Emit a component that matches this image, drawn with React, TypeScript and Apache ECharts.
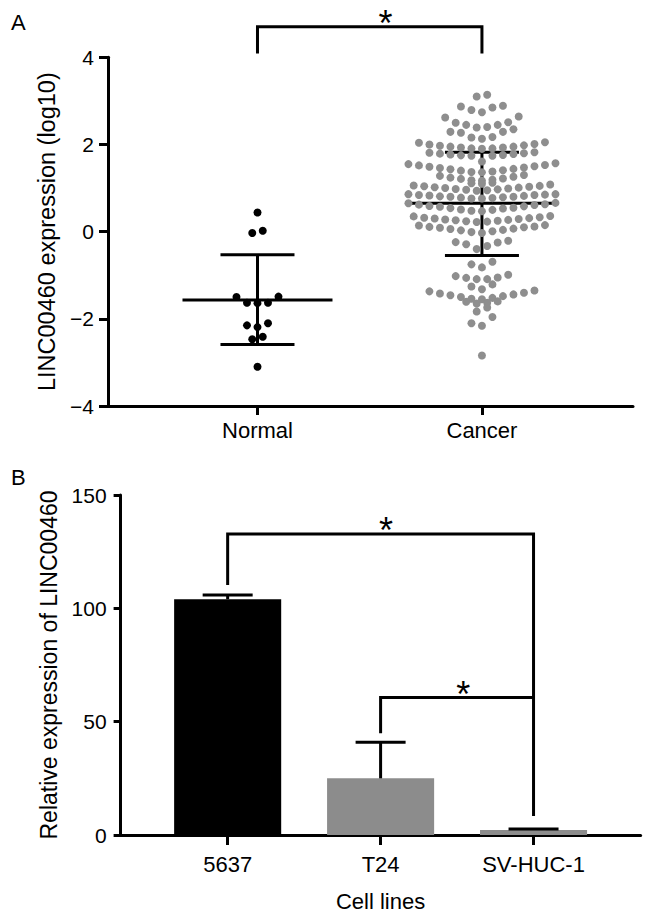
import React, { useEffect, useRef } from 'react';
import * as echarts from 'echarts';

const FONT = '"Liberation Sans", Arial, Helvetica, sans-serif';

// ---------- Panel A data ----------
const groupsA = ['Normal', 'Cancer'];
// values per horizontal bin (log10 expression)
const normalRows: number[][] = [
  [0.44],
  [-0.03, 0.02],
  [-1.49, -1.63, -1.63, -1.64, -1.5],
  [-2.1, -2.19, -2.15],
  [-2.41, -2.47],
  [-3.1],
];
const cancerRows: number[][] = [
  [3.1, 3.14],
  [2.74, 2.79, 2.85, 2.87, 2.89],
  [2.39, 2.4, 2.45, 2.45, 2.5, 2.51, 2.62, 2.64],
  [2.13, 2.16, 2.17, 2.27, 2.29, 2.29, 2.35],
  [1.9, 1.91, 1.91, 1.93, 1.93, 1.95, 1.95, 1.97, 1.98, 2.0, 2.01, 2.04, 2.05],
  [1.61, 1.74, 1.74, 1.75, 1.76, 1.77, 1.78, 1.79, 1.8, 1.81, 1.82],
  [1.36, 1.37, 1.38, 1.4, 1.41, 1.43, 1.44, 1.46, 1.47, 1.49, 1.5, 1.52, 1.53, 1.55, 1.57],
  [1.17, 1.18, 1.19, 1.21, 1.22, 1.24, 1.26, 1.28, 1.3],
  [1.1, 1.11, 1.12],
  [0.94, 0.95, 0.96, 0.97, 0.98, 0.99, 1.0, 1.01, 1.02, 1.03, 1.04, 1.05, 1.06, 1.08],
  [0.76, 0.76, 0.77, 0.78, 0.79, 0.8, 0.8, 0.81, 0.82, 0.83, 0.84, 0.84, 0.85, 0.86, 0.86],
  [0.47, 0.48, 0.5, 0.51, 0.53, 0.54, 0.55, 0.57, 0.58, 0.59, 0.61, 0.62, 0.63, 0.65, 0.66],
  [0.22, 0.23, 0.24, 0.25, 0.26, 0.27, 0.28, 0.29, 0.3, 0.31, 0.32, 0.33, 0.35, 0.36],
  [-0.03, -0.01, 0.01, 0.03, 0.04, 0.06, 0.07, 0.09, 0.1, 0.11, 0.12, 0.14, 0.15],
  [-0.4, -0.33, -0.29, -0.25, -0.24, -0.21],
  [-0.82, -0.75, -0.69],
  [-1.09, -1.09, -1.06, -1.05, -1.02, -0.99],
  [-1.32, -1.26, -1.21],
  [-1.55, -1.54, -1.52, -1.5, -1.48, -1.46, -1.44, -1.42, -1.4, -1.37, -1.35],
  [-1.65, -1.63, -1.61, -1.6],
  [-1.83, -1.74],
  [-2.16, -2.1, -1.96],
  [-2.84],
];
const meanA = [-1.57, 0.65];
const sdLowA = [-2.59, -0.55];
const sdHighA = [-0.53, 1.82];
// significance bracket A: [from, to, top, leftEnd, rightEnd, starX]
const bracketsA = [[1, 2, 4.7, 4.09, 4.09, 1.57]];

// ---------- Panel B data ----------
const cellLines = ['5637', 'T24', 'SV-HUC-1'];
const expressionB = [104.0, 25.0, 2.2];
const errorTopB = [105.9, 40.9, 2.7];
const barColorsB = ['#000000', '#8c8c8c', '#8c8c8c'];
const bracketsB = [
  [1, 3, 132.8, 110.3, 8.4, 2.035],
  [2, 3, 60.7, 44.9, 60.7, 2.54],
];

// Prism-like layout: within each bin sort ascending, place centre-out alternately
function swarm(rows: number[][], cx: number, step: number) {
  const pts: number[][] = [];
  rows.forEach((row) => {
    const s = [...row].sort((a, b) => a - b);
    const n = s.length;
    s.forEach((v, i) => {
      let off: number;
      if (n % 2 === 1) {
        const k = Math.ceil(i / 2);
        off = i === 0 ? 0 : i % 2 === 1 ? -k : k;
      } else {
        const k = Math.floor(i / 2) + 0.5;
        off = i % 2 === 0 ? -k : k;
      }
      pts.push([cx + off * step, v]);
    });
  });
  return pts;
}

const STEP = 0.0468;
const txt = { color: '#000', fontFamily: FONT };

function errorBarA(params: any, api: any) {
  const x = api.value(0);
  const pm = api.coord([x, api.value(1)]);
  const plo = api.coord([x, api.value(2)]);
  const phi = api.coord([x, api.value(3)]);
  const st = { stroke: '#000', lineWidth: 3 };
  return {
    type: 'group',
    children: [
      { type: 'line', shape: { x1: plo[0], y1: plo[1], x2: phi[0], y2: phi[1] }, style: st },
      { type: 'line', shape: { x1: phi[0] - 37, y1: phi[1], x2: phi[0] + 37, y2: phi[1] }, style: st },
      { type: 'line', shape: { x1: plo[0] - 37, y1: plo[1], x2: plo[0] + 37, y2: plo[1] }, style: st },
      { type: 'line', shape: { x1: pm[0] - 75, y1: pm[1], x2: pm[0] + 75, y2: pm[1] }, style: st },
    ],
  };
}

function bracket(params: any, api: any) {
  const a = api.value(0), b = api.value(1), top = api.value(2);
  const p1 = api.coord([a, api.value(3)]);
  const p2 = api.coord([a, top]);
  const p3 = api.coord([b, top]);
  const p4 = api.coord([b, api.value(4)]);
  const ps = api.coord([api.value(5), top]);
  return {
    type: 'group',
    children: [
      {
        type: 'polyline',
        shape: { points: [p1, p2, p3, p4] },
        style: { stroke: '#000', lineWidth: 3, fill: 'none' },
      },
      {
        type: 'text',
        x: ps[0],
        y: ps[1] - 3,
        style: {
          text: '*',
          fill: '#000',
          font: `36px ${FONT}`,
          align: 'center',
          verticalAlign: 'middle',
          textAlign: 'center',
          textVerticalAlign: 'middle',
        },
      },
    ],
  };
}

function barB(params: any, api: any) {
  const x = api.value(0);
  const pTop = api.coord([x - 0.35, api.value(1)]);
  const pBot = api.coord([x + 0.35, 0]);
  return {
    type: 'rect',
    shape: { x: pTop[0], y: pTop[1], width: pBot[0] - pTop[0], height: pBot[1] - pTop[1] },
    style: { fill: barColorsB[params.dataIndex] },
  };
}

function errB(params: any, api: any) {
  const x = api.value(0);
  const pm = api.coord([x, api.value(1)]);
  const ph = api.coord([x, api.value(2)]);
  const st = { stroke: '#000', lineWidth: 3 };
  return {
    type: 'group',
    children: [
      { type: 'line', shape: { x1: pm[0], y1: pm[1], x2: ph[0], y2: ph[1] }, style: st },
      { type: 'line', shape: { x1: ph[0] - 25, y1: ph[1], x2: ph[0] + 25, y2: ph[1] }, style: st },
    ],
  };
}

function buildOption() {
  const normalPts = swarm(normalRows, 1, STEP);
  const cancerPts = swarm(cancerRows, 2, STEP);
  const axisLine = { show: true, onZero: false, lineStyle: { color: '#000', width: 3 } };
  return {
    animation: false,
    backgroundColor: '#fff',
    graphic: [
      { type: 'text', left: 11, top: 11, style: { text: 'A', font: `22px ${FONT}`, fill: '#000' } },
      { type: 'text', left: 11, top: 466, style: { text: 'B', font: `22px ${FONT}`, fill: '#000' } },
    ],
    grid: [
      { left: 108, right: 13, top: 57.3, bottom: 513 },
      { left: 120.6, right: 5.4, top: 495, bottom: 84 },
    ],
    xAxis: [
      {
        type: 'value',
        gridIndex: 0,
        min: 0.334,
        max: 2.673,
        axisLine,
        axisTick: { show: true, customValues: [1, 2], length: 9, lineStyle: { color: '#000', width: 3 } },
        axisLabel: {
          customValues: [1, 2],
          formatter: (v: number) => groupsA[Math.round(v) - 1] ?? '',
          fontSize: 22,
          margin: 13,
          ...txt,
        },
        splitLine: { show: false },
      },
      {
        type: 'value',
        gridIndex: 1,
        min: 0.3,
        max: 3.7,
        axisLine,
        axisTick: { show: true, customValues: [1, 2, 3], length: 10, lineStyle: { color: '#000', width: 3 } },
        axisLabel: {
          customValues: [1, 2, 3],
          formatter: (v: number) => cellLines[Math.round(v) - 1] ?? '',
          fontSize: 22,
          margin: 18,
          ...txt,
        },
        splitLine: { show: false },
        name: 'Cell lines',
        nameLocation: 'middle',
        nameGap: 55,
        nameTextStyle: { fontSize: 22, ...txt },
      },
    ],
    yAxis: [
      {
        type: 'value',
        gridIndex: 0,
        min: -4,
        max: 4,
        interval: 2,
        axisLine,
        axisTick: { show: true, length: 9, lineStyle: { color: '#000', width: 3 } },
        axisLabel: {
          formatter: (v: number) => (v < 0 ? '\u2212' + Math.abs(v) : String(v)),
          fontSize: 21,
          margin: 14,
          ...txt,
        },
        splitLine: { show: false },
        name: 'LINC00460 expression (log10)',
        nameLocation: 'middle',
        nameGap: 47,
        nameTextStyle: { fontSize: 23.5, ...txt },
      },
      {
        type: 'value',
        gridIndex: 1,
        min: 0,
        max: 150,
        interval: 50,
        axisLine,
        axisTick: { show: true, length: 7, lineStyle: { color: '#000', width: 3 } },
        axisLabel: { fontSize: 21, margin: 14, ...txt },
        splitLine: { show: false },
        name: 'Relative expression of LINC00460',
        nameLocation: 'middle',
        nameGap: 58,
        nameTextStyle: { fontSize: 23, ...txt },
      },
    ],
    series: [
      {
        type: 'custom',
        xAxisIndex: 0,
        yAxisIndex: 0,
        z: 1,
        renderItem: errorBarA,
        encode: { x: 0, y: [1, 2, 3] },
        data: meanA.map((m, i) => [i + 1, m, sdLowA[i], sdHighA[i]]),
        silent: true,
      },
      {
        type: 'scatter',
        xAxisIndex: 0,
        yAxisIndex: 0,
        z: 3,
        symbolSize: 8,
        itemStyle: { color: '#000', opacity: 1 },
        data: normalPts,
        silent: true,
      },
      {
        type: 'scatter',
        xAxisIndex: 0,
        yAxisIndex: 0,
        z: 3,
        symbolSize: 8,
        itemStyle: { color: '#8e8e8e', opacity: 1 },
        data: cancerPts,
        silent: true,
      },
      {
        type: 'custom',
        xAxisIndex: 0,
        yAxisIndex: 0,
        clip: false,
        z: 4,
        renderItem: bracket,
        encode: { x: [0, 1, 5], y: [2, 3, 4] },
        data: bracketsA,
        silent: true,
      },
      {
        type: 'custom',
        xAxisIndex: 1,
        yAxisIndex: 1,
        z: 2,
        renderItem: barB,
        encode: { x: 0, y: 1 },
        data: expressionB.map((v, i) => [i + 1, v]),
        silent: true,
      },
      {
        type: 'custom',
        xAxisIndex: 1,
        yAxisIndex: 1,
        z: 3,
        renderItem: errB,
        encode: { x: 0, y: [1, 2] },
        data: expressionB.map((v, i) => [i + 1, v, errorTopB[i]]),
        silent: true,
      },
      {
        type: 'custom',
        xAxisIndex: 1,
        yAxisIndex: 1,
        clip: false,
        z: 4,
        renderItem: bracket,
        encode: { x: [0, 1, 5], y: [2, 3, 4] },
        data: bracketsB,
        silent: true,
      },
    ],
  };
}

export default function App() {
  const ref = useRef<HTMLDivElement>(null);
  useEffect(() => {
    if (!ref.current) return;
    const chart = echarts.init(ref.current, undefined, { renderer: 'svg' });
    chart.setOption(buildOption() as any);
    return () => chart.dispose();
  }, []);
  return (
    <div
      ref={ref}
      style={{ position: 'absolute', left: 0, top: 0, width: 646, height: 919, background: '#fff' }}
    />
  );
}
